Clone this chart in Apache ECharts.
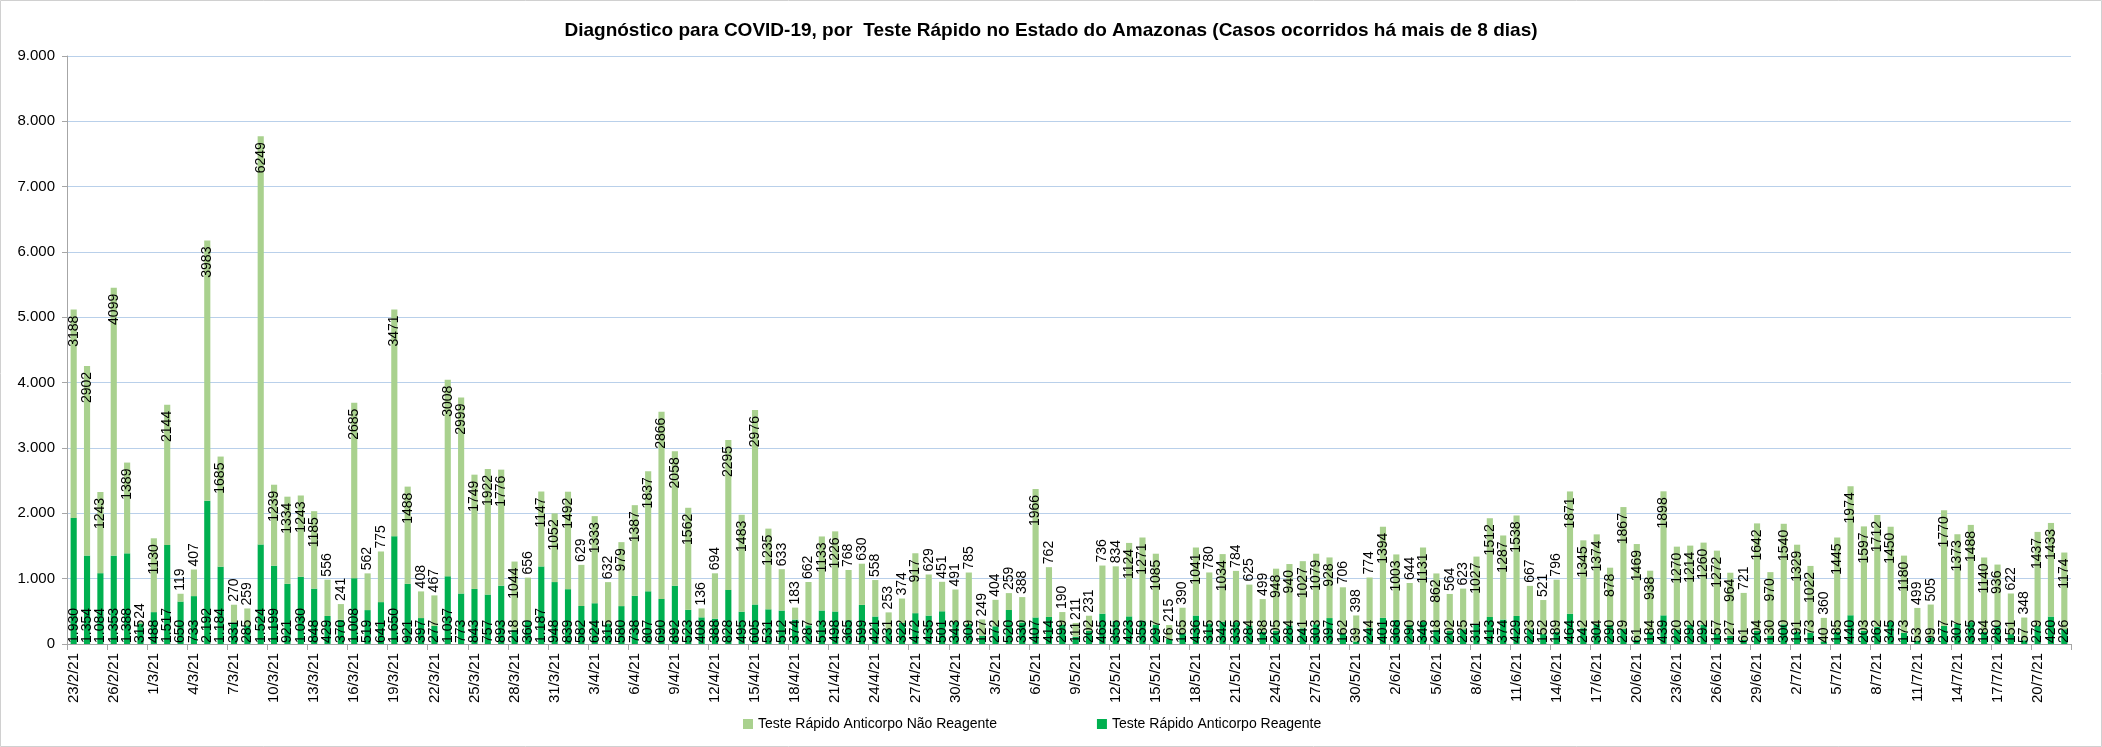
<!DOCTYPE html>
<html>
<head>
<meta charset="utf-8">
<title>Diagnóstico COVID-19 - Teste Rápido - Amazonas</title>
<script src="https://cdn.jsdelivr.net/npm/echarts@6/dist/echarts.min.js"></script>
<style>
    html, body { margin: 0; padding: 0; background: #fff; }
    #chart { width: 2102px; height: 747px; }
</style>
</head>
<body>
<div id="chart"></div>
<script>
// dias de 23/2/21 a 22/7/21
const monthDays = [[2, 23, 28], [3, 1, 31], [4, 1, 30], [5, 1, 31], [6, 1, 30], [7, 1, 22]]
const dates = []
monthDays.forEach(([m, d0, d1]) => {
    for (let d = d0; d <= d1; d++) dates.push(d + '/' + m + '/21')
})

// Teste Rápido Anticorpo Reagente (parte de baixo)
const reagente = [
    1930, 1354, 1084, 1353, 1388, 315,
    488, 1517, 650, 733, 2192, 1184, 331, 285, 1524, 1199, 921, 1030, 848, 429, 370, 1008,
    519, 641, 1650, 921, 397, 277, 1037, 773, 843, 757, 893, 218, 360, 1187, 948,
    839, 582, 624, 315, 580, 738, 807, 690, 892, 523, 408, 388, 828, 495, 605, 531, 512,
    374, 287, 513, 498, 365, 599, 421, 231, 322, 472, 435, 501, 343,
    309, 127, 272, 520, 330, 407, 414, 299, 111, 202, 465, 355, 423, 359, 297, 76, 165,
    436, 315, 342, 335, 284, 188, 205, 284, 241, 303, 397, 162, 39, 244,
    401, 368, 290, 346, 218, 202, 225, 311, 413, 374, 429, 223, 152, 189, 464, 242, 304,
    290, 229, 61, 184, 439, 220, 292, 292, 157, 127, 61, 204, 130,
    300, 191, 173, 40, 185, 440, 203, 262, 345, 173, 53, 99, 277, 307, 335, 184, 280,
    151, 57, 279, 420, 226
]

// Teste Rápido Anticorpo Não Reagente (parte de cima)
const naoReagente = [
    3188, 2902, 1243, 4099, 1389, 24,
    1130, 2144, 119, 407, 3983, 1685, 270, 259, 6249, 1239, 1334, 1243, 1185, 556, 241, 2685,
    562, 775, 3471, 1488, 408, 467, 3008, 2999, 1749, 1922, 1776, 1044, 656, 1147, 1052,
    1492, 629, 1333, 632, 979, 1387, 1837, 2866, 2058, 1562, 136, 694, 2295, 1483, 2976, 1235, 633,
    183, 662, 1133, 1226, 768, 630, 558, 253, 374, 917, 629, 451, 491,
    785, 249, 404, 259, 388, 1966, 762, 190, 211, 231, 736, 834, 1124, 1271, 1085, 215, 390,
    1041, 780, 1034, 784, 625, 499, 948, 940, 1027, 1079, 928, 706, 398, 774,
    1394, 1003, 644, 1131, 862, 564, 623, 1027, 1512, 1287, 1538, 667, 521, 796, 1871, 1345, 1374,
    878, 1867, 1469, 938, 1898, 1270, 1214, 1260, 1272, 964, 721, 1642, 970,
    1540, 1329, 1022, 360, 1445, 1974, 1597, 1712, 1450, 1180, 499, 505, 1770, 1373, 1488, 1140, 936,
    622, 348, 1437, 1433, 1174
]

const yTicks = [0, 1000, 2000, 3000, 4000, 5000, 6000, 7000, 8000, 9000]

const FONT = 'Liberation Sans, Arial, sans-serif'

function milhar(v) {// 1930 -> 1.930
    return String(v).replace(/\B(?=(\d{3})+(?!\d))/g, '.')
}

const chart = echarts.init(document.getElementById('chart'))

chart.setOption({
    backgroundColor: '#fff',
    animation: false,
    title: {
        text: 'Diagnóstico para COVID-19, por  Teste Rápido no Estado do Amazonas (Casos ocorridos há mais de 8 dias)',
        left: 'center',
        top: 16,
        textStyle: { fontFamily: FONT, fontSize: 19, fontWeight: 'bold', color: '#000' }
    },
    graphic: [{// borda da área do gráfico
        type: 'rect',
        shape: { x: 0.5, y: 0.5, width: 2101, height: 746 },
        style: { fill: 'none', stroke: '#d0d0d0', lineWidth: 1 }
    }],
    legend: {
        data: ['Teste Rápido Anticorpo Não Reagente', 'Teste Rápido Anticorpo Reagente'],
        left: 738,
        top: 712,
        itemWidth: 10,
        itemHeight: 10,
        itemGap: 100,
        icon: 'rect',
        textStyle: { fontFamily: FONT, fontSize: 14, color: '#000' }
    },
    grid: { left: 67, right: 31, top: 56, bottom: 103, containLabel: false },
    xAxis: {
        type: 'category',
        data: dates,
        axisLine: { lineStyle: { color: '#a6a6a6' } },
        axisTick: { show: true, interval: 2, length: 6, lineStyle: { color: '#a6a6a6' } },
        axisLabel: {
            interval: 2,
            rotate: 90,
            margin: 9,
            fontFamily: FONT,
            fontSize: 15,
            color: '#000'
        }
    },
    yAxis: {
        type: 'value',
        min: 0,
        max: yTicks[yTicks.length - 1],
        interval: yTicks[1] - yTicks[0],
        axisLine: { show: true, lineStyle: { color: '#a6a6a6' } },
        axisTick: { show: true, length: 5, lineStyle: { color: '#a6a6a6' } },
        splitLine: { lineStyle: { color: '#b9d0ea', width: 1 } },
        axisLabel: {
            formatter: milhar,
            margin: 12,
            fontFamily: FONT,
            fontSize: 15,
            color: '#000'
        }
    },
    series: [{
        name: 'Teste Rápido Anticorpo Reagente',
        type: 'bar',
        stack: 'total',
        barWidth: '46%',
        itemStyle: { color: '#00b050' },
        label: {
            show: true,
            position: 'insideBottom',
            rotate: 90,
            align: 'left',
            verticalAlign: 'middle',
            distance: 1,
            formatter: p => milhar(p.value),
            fontFamily: FONT,
            fontSize: 14,
            color: '#000'
        },
        data: reagente
    }, {
        name: 'Teste Rápido Anticorpo Não Reagente',
        type: 'bar',
        stack: 'total',
        barWidth: '46%',
        itemStyle: { color: '#a9d18e' },
        label: {
            show: true,
            rotate: 90,
            verticalAlign: 'middle',
            fontFamily: FONT,
            fontSize: 14,
            color: '#000'
        },
        // rótulo fora da barra quando o trecho é pequeno
        data: naoReagente.map(v => v < 850
            ? { value: v, label: { position: 'top', align: 'left', distance: 3 } }
            : { value: v, label: { position: 'insideTop', align: 'right', distance: 6 } })
    }]
})
</script>
</body>
</html>
